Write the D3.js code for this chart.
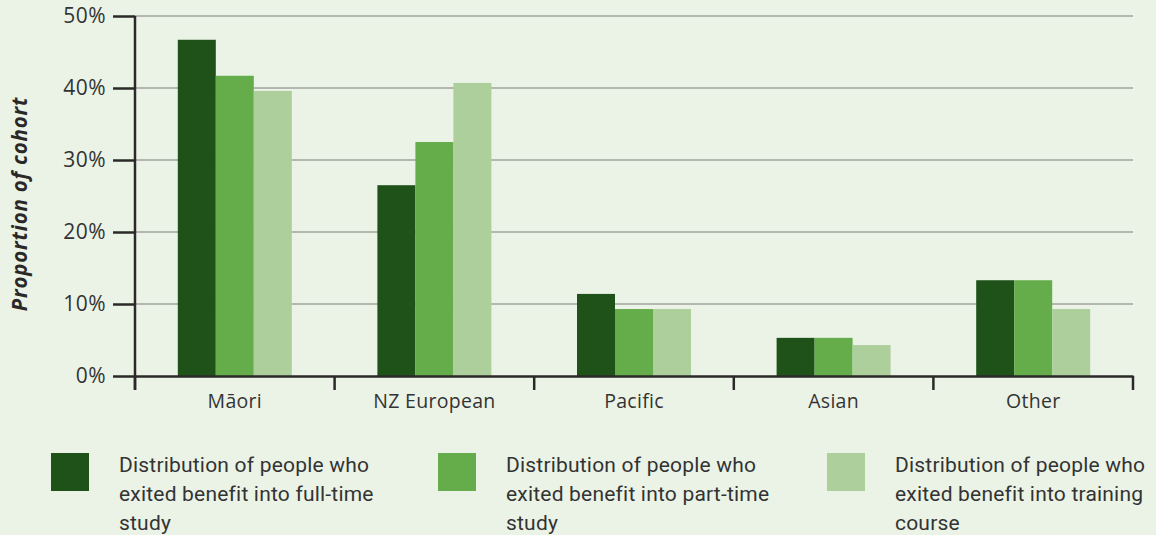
<!DOCTYPE html>
<html>
<head>
<meta charset="utf-8">
<script src="https://cdn.jsdelivr.net/npm/d3@7"></script>
<style>
  html, body { margin: 0; padding: 0; background: #ebf3e7; }
  svg { display: block; }
</style>
</head>
<body>
<svg id="chart" width="1156" height="535"></svg>
<script>
// data
const categories = ["Māori", "NZ European", "Pacific", "Asian", "Other"];
const seriesNames = [
  "Distribution of people who exited benefit into full-time study",
  "Distribution of people who exited benefit into part-time study",
  "Distribution of people who exited benefit into training course"
];
const fullTime = [46.7, 26.5, 11.4, 5.3, 13.3];
const partTime = [41.7, 32.5, 9.3, 5.3, 13.3];
const training = [39.6, 40.7, 9.3, 4.3, 9.3];
const yTicks = [0, 10, 20, 30, 40, 50];
const legendLines = [
  ["Distribution of people who", "exited benefit into full-time", "study"],
  ["Distribution of people who", "exited benefit into part-time", "study"],
  ["Distribution of people who", "exited benefit into training", "course"]
];
const colors = ["#1f5218", "#64ad4a", "#adcf9c"];

const series = [fullTime, partTime, training];
const rows = categories.map((c, i) => ({
  cat: c,
  values: series.map((s, j) => ({ key: j, value: s[i] }))
}));

const svg = d3.select("#chart");
const plot = { left: 135, right: 1133, top: 16, bottom: 376 };

const x0 = d3.scaleBand().domain(categories).range([plot.left, plot.right]).padding(0);
const groupW = 114;
const x1 = d3.scaleBand().domain([0, 1, 2]).range([0, groupW]).padding(0);
const y = d3.scaleLinear().domain([0, 50]).range([plot.bottom, plot.top]);

// gridlines
svg.append("g")
  .selectAll("line")
  .data(yTicks.filter((d) => d > 0))
  .enter()
  .append("line")
  .attr("x1", plot.left)
  .attr("x2", plot.right)
  .attr("y1", (d) => y(d))
  .attr("y2", (d) => y(d))
  .attr("stroke", "#a0a39e")
  .attr("stroke-width", 1.5);

// bars
svg.append("g")
  .selectAll("g")
  .data(rows)
  .enter()
  .append("g")
  .attr("transform", (d) => `translate(${x0(d.cat) + (x0.bandwidth() - groupW) / 2},0)`)
  .selectAll("rect")
  .data((d) => d.values)
  .enter()
  .append("rect")
  .attr("x", (d) => x1(d.key))
  .attr("width", x1.bandwidth())
  .attr("y", (d) => y(d.value))
  .attr("height", (d) => y(0) - y(d.value))
  .attr("fill", (d) => colors[d.key]);

// y axis
const yAxis = svg.append("g")
  .attr("transform", `translate(${plot.left},0)`)
  .call(d3.axisLeft(y).tickValues(yTicks).tickSize(22).tickPadding(7).tickFormat((d) => d + "%"));
yAxis.select(".domain").remove();
yAxis.selectAll(".tick line").attr("stroke", "#2b2828").attr("stroke-width", 2.5);
yAxis.selectAll("text")
  .attr("fill", "#333")
  .style("font-family", "'Open Sans', sans-serif")
  .style("font-size", "21px")
  .style("letter-spacing", "0.5px");
svg.append("line")
  .attr("x1", plot.left).attr("x2", plot.left)
  .attr("y1", plot.top).attr("y2", plot.bottom + 14)
  .attr("stroke", "#2b2828").attr("stroke-width", 2.5);

// x axis
const xAxis = svg.append("g")
  .attr("transform", `translate(0,${plot.bottom})`)
  .call(d3.axisBottom(x0).tickSize(0).tickPadding(18));
xAxis.select(".domain").attr("stroke", "#2b2828").attr("stroke-width", 2.5);
xAxis.selectAll("text")
  .attr("fill", "#333")
  .style("font-family", "'Open Sans', sans-serif")
  .style("font-size", "19.5px")
  .style("letter-spacing", "0.3px");
svg.append("g")
  .selectAll("line")
  .data(categories.concat(["end"]))
  .enter()
  .append("line")
  .attr("x1", (d) => (d === "end" ? plot.right : x0(d)))
  .attr("x2", (d) => (d === "end" ? plot.right : x0(d)))
  .attr("y1", plot.bottom)
  .attr("y2", plot.bottom + 14)
  .attr("stroke", "#2b2828")
  .attr("stroke-width", 2.5);

// y axis title
svg.append("text")
  .attr("transform", "translate(27,204) rotate(-90)")
  .attr("text-anchor", "middle")
  .attr("fill", "#2b2828")
  .style("font-family", "'Open Sans', sans-serif")
  .style("font-size", "20.5px")
  .style("font-weight", "bold")
  .style("font-style", "italic")
  .style("letter-spacing", "0.8px")
  .text("Proportion of cohort");

// legend
const legendX = [51, 438, 827];
const legend = svg.append("g")
  .selectAll("g")
  .data(seriesNames)
  .enter()
  .append("g")
  .attr("transform", (d, i) => `translate(${legendX[i]},453)`);
legend.append("rect")
  .attr("width", 38)
  .attr("height", 38)
  .attr("fill", (d, i) => colors[i]);
legend.append("text")
  .attr("x", 68)
  .attr("y", 19)
  .attr("fill", "#333")
  .style("font-family", "Roboto, sans-serif")
  .style("font-size", "21px")
  .style("letter-spacing", "0.2px")
  .selectAll("tspan")
  .data((d, i) => legendLines[i])
  .enter()
  .append("tspan")
  .attr("x", 68)
  .attr("dy", (d, i) => (i === 0 ? 0 : 29))
  .text((d) => d);
</script>
</body>
</html>
